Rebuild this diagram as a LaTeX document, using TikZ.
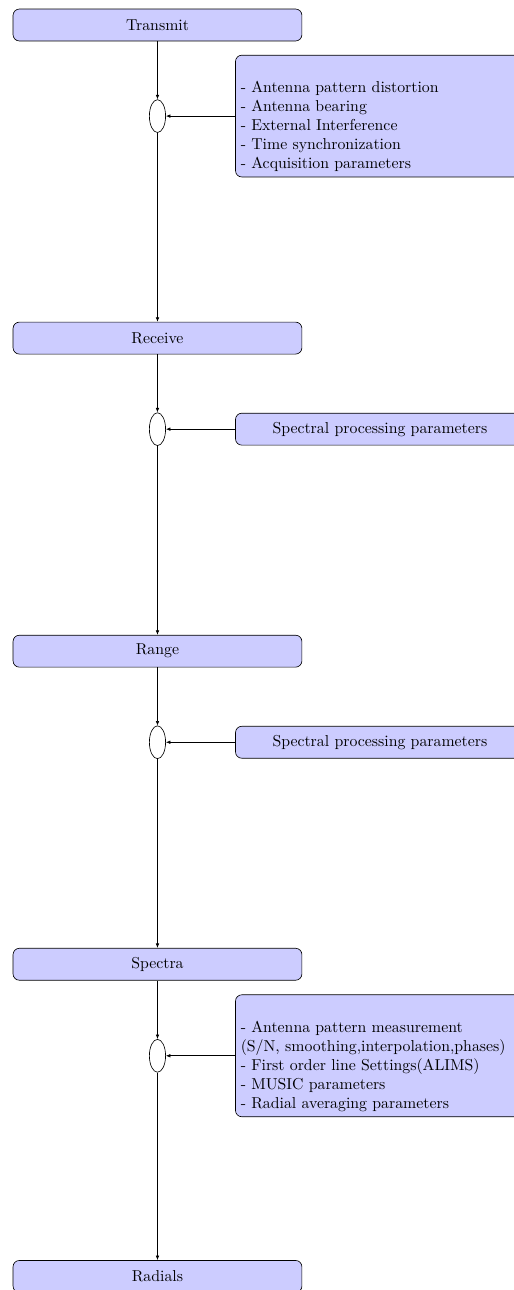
\documentclass[tikz,border=0pt]{standalone}
\usepackage{tikz}
\usetikzlibrary{positioning,shapes.geometric,arrows.meta}

\tikzset{
  stage/.style={draw, fill=blue!20, rounded corners, minimum width=6.42cm, minimum height=0.71cm},
  param/.style={draw, fill=blue!20, rounded corners, text width=6.185cm, minimum height=0.71cm},
  junction/.style={draw, ellipse, minimum width=0.36cm, minimum height=0.73cm, inner sep=0pt},
  flow/.style={-{Latex[length=1mm,width=0.8mm]}}
}

\begin{document}
\begin{tikzpicture}[node distance=1.29cm]
\useasboundingbox (0,0) rectangle (11.42,-28.67);
\node[stage] (transmit) at (3.5,-0.556) {Transmit};
\node[junction, below=of transmit] (j1) {};
\node[param, align=left, right=1.54cm of j1] (p1) {\strut\\- Antenna pattern distortion\\- Antenna bearing\\- External Interference\\- Time synchronization\\- Acquisition parameters};
\node[stage, below=4.2cm of j1] (receive) {Receive};
\node[junction, below=of receive] (j2) {};
\node[param, align=center, right=1.54cm of j2] (p2) {Spectral processing parameters};
\node[stage, below=4.2cm of j2] (range) {Range};
\node[junction, below=of range] (j3) {};
\node[param, align=center, right=1.54cm of j3] (p3) {Spectral processing parameters};
\node[stage, below=4.2cm of j3] (spectra) {Spectra};
\node[junction, below=1.3cm of spectra] (j4) {};
\node[param, align=left, right=1.54cm of j4] (p4) {\strut\\- Antenna pattern measurement\\(S/N, smoothing,interpolation,phases)\\- First order line Settings(ALIMS)\\- MUSIC parameters\\- Radial averaging parameters};
\node[stage, below=4.17cm of j4] (radials) {Radials};
\path[flow] (transmit) edge (j1) (j1) edge (receive) (p1) edge (j1);
\path[flow] (receive) edge (j2) (j2) edge (range) (p2) edge (j2);
\path[flow] (range) edge (j3) (j3) edge (spectra) (p3) edge (j3);
\path[flow] (spectra) edge (j4) (j4) edge (radials) (p4) edge (j4);
\end{tikzpicture}
\end{document}
